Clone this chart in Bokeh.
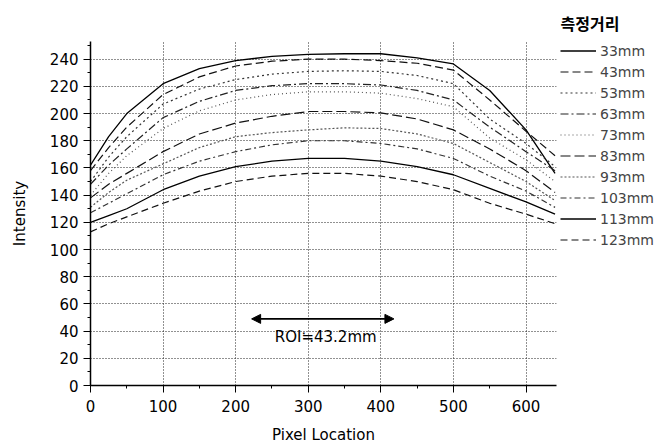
from bokeh.plotting import figure
from bokeh.layouts import row
from bokeh.models import (Range1d, SingleIntervalTicker, Legend, LegendItem,
                          Arrow, NormalHead, Label)
from bokeh.embed import file_html
from bokeh.resources import INLINE

# ---------------- data ----------------
pixel_x = [0, 25, 50, 100, 150, 200, 250, 300, 350, 400, 450, 500, 550, 600, 640]

d33 = [162, 183, 200, 222, 233, 239, 242, 243.5, 244, 244, 241, 236.5, 217, 188, 156]
d43 = [158, 175, 190, 214, 227, 235, 238.5, 240, 240, 239, 237, 232, 210, 187, 169]
d53 = [150, 168, 183, 207, 218, 225, 229, 231, 231.5, 231, 228, 222, 196, 178, 161]
d63 = [148, 162, 174, 197, 209, 217, 220.5, 222, 222, 221, 217, 210, 190, 172, 158]
d73 = [140, 156, 169, 189, 202, 210, 214, 216, 216, 215, 211, 205, 182, 166, 150]
d83 = [138, 148, 156, 172, 185, 193, 198, 201.5, 201.5, 200.5, 196, 188, 174, 158, 142]
d93 = [131, 142, 151, 163, 175, 183, 186, 188, 189.5, 189, 185, 178, 164, 150, 136]
d103 = [127, 134, 141, 155, 165, 172, 177, 180, 180, 178, 174, 167, 154, 143, 131]
d113 = [120, 125, 130, 144, 154, 161, 165, 167, 167, 165, 161, 155, 145, 135, 126]
d123 = [113, 119, 124, 134, 143, 150, 154, 156, 156, 154, 150, 144, 134, 126, 119]

series_labels = ["33mm", "43mm", "53mm", "63mm", "73mm", "83mm", "93mm",
                 "103mm", "113mm", "123mm"]
series_values = [d33, d43, d53, d63, d73, d83, d93, d103, d113, d123]

legend_title = "측정거리"
x_label = "Pixel Location"
y_label = "Intensity"

roi_text = "ROI≒43.2mm"
roi_start = 222
roi_end = 418
roi_y = 49
roi_text_x = 324
roi_text_y = 36

# ---------------- styles ----------------
dashes = ["solid", "8 4", "2 3", "8 3 2 3", "1 3", "10 4", "2 2", "6 3 2 3", "solid", "7 4"]
colors = ["#000000", "#111111", "#333333", "#222222", "#555555", "#111111",
          "#555555", "#333333", "#000000", "#111111"]
widths = [1.3, 1.2, 1.2, 1.2, 1.2, 1.2, 1.2, 1.2, 1.3, 1.2]

FONT = "DejaVu Sans"

p = figure(width=560, height=446, output_backend="svg", toolbar_location=None,
           x_range=Range1d(0, 642), y_range=Range1d(0, 253),
           min_border_left=90, min_border_right=4, min_border_top=41,
           min_border_bottom=61)
p.outline_line_color = None
p.background_fill_color = "white"

for lab, vals, dsh, col, w in zip(series_labels, series_values, dashes, colors, widths):
    p.line(pixel_x, vals, line_color=col, line_width=w, line_dash=dsh)

# axes
p.xaxis.ticker = SingleIntervalTicker(interval=100, num_minor_ticks=2)
p.yaxis.ticker = SingleIntervalTicker(interval=20, num_minor_ticks=2)
for ax in (p.xaxis, p.yaxis):
    ax.axis_line_color = "black"
    ax.axis_line_width = 1.5
    ax.major_tick_line_color = "black"
    ax.minor_tick_line_color = "black"
    ax.major_tick_in = 0
    ax.major_tick_out = 7
    ax.minor_tick_in = 0
    ax.minor_tick_out = 3
    ax.major_label_text_font = FONT
    ax.major_label_text_font_size = "15px"
    ax.major_label_text_color = "black"
    ax.axis_label_text_font = FONT
    ax.axis_label_text_font_size = "15px"
    ax.axis_label_text_font_style = "normal"
    ax.axis_label_text_color = "black"
p.xaxis.axis_label = x_label
p.yaxis.axis_label = y_label
p.xaxis.major_label_standoff = 7
p.yaxis.major_label_standoff = 5
p.xaxis.axis_label_standoff = 11
p.yaxis.axis_label_standoff = 18

# grid
for g in (p.xgrid, p.ygrid):
    g.grid_line_color = "#222222"
    g.grid_line_dash = "1 2"
    g.grid_line_width = 1

# ROI annotation
arrow = Arrow(start=NormalHead(size=9, fill_color="black", line_color="black"),
              end=NormalHead(size=9, fill_color="black", line_color="black"),
              x_start=roi_start, y_start=roi_y, x_end=roi_end, y_end=roi_y,
              line_color="black", line_width=1.8)
p.add_layout(arrow)
p.add_layout(Label(x=roi_text_x, y=roi_text_y, text=roi_text, text_align="center",
                   text_baseline="middle", text_font=FONT, text_font_size="15px",
                   text_color="black"))

# ---------------- legend column (separate narrow figure) ----------------
lg = figure(width=96, height=446, output_backend="svg", toolbar_location=None,
            x_range=Range1d(0, 1), y_range=Range1d(0, 1),
            x_axis_location=None, y_axis_location=None,
            min_border_left=0, min_border_right=0, min_border_top=41,
            min_border_bottom=61)
lg.outline_line_color = None
lg.xgrid.visible = False
lg.ygrid.visible = False
lg.title.text = legend_title
lg.title.align = "left"
lg.title.standoff = 14
lg.title.text_font = "Noto Sans CJK KR"
lg.title.text_font_size = "16px"
lg.title.text_font_style = "bold"
lg.title.text_color = "black"

items = []
for lab, vals, dsh, col, w in zip(series_labels, series_values, dashes, colors, widths):
    r = lg.line(pixel_x, vals, line_color=col, line_width=w, line_dash=dsh)
    r.visible = False
    items.append(LegendItem(label=lab, renderers=[r]))

legend = Legend(items=items, location="top_left",
                label_text_font=FONT, label_text_font_size="14px",
                glyph_width=36, glyph_height=19, label_height=19, spacing=2,
                label_standoff=4, padding=0, margin=0,
                border_line_color=None, background_fill_alpha=0)
lg.add_layout(legend)

layout = row(p, lg, spacing=0)
open("out.html", "w").write(file_html(layout, INLINE))
